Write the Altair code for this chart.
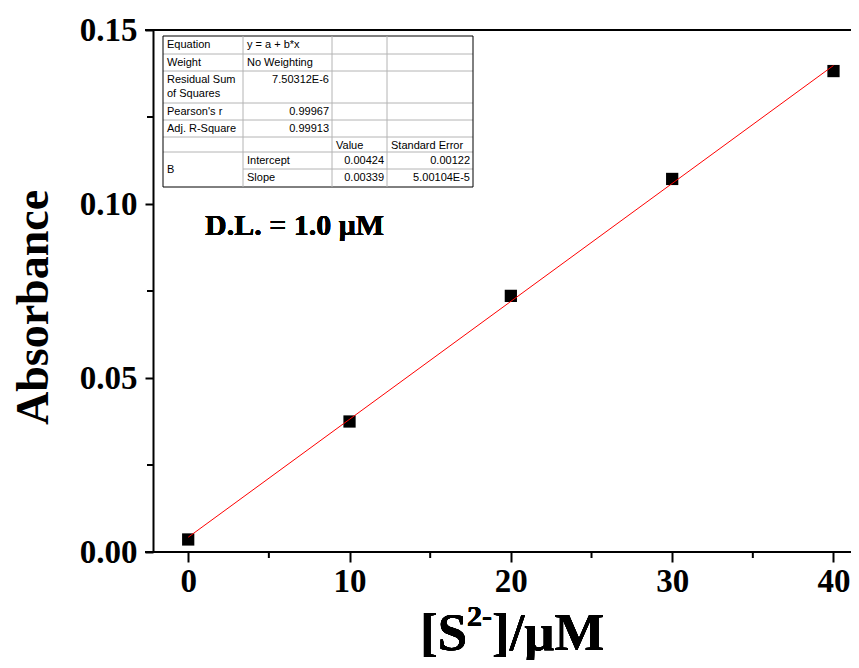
import altair as alt
import pandas as pd

# ---- data ----
conc = [0, 10, 20, 30, 40]
absorb = [0.0036, 0.0375, 0.0736, 0.1072, 0.1382]
x_ticks = [0, 10, 20, 30, 40]
x_minor = [5, 15, 25, 35]
y_ticks = [0.0, 0.05, 0.10, 0.15]
y_minor = [0.025, 0.075, 0.125]

# table contents (Origin fit report)
tbl_col1 = ["Equation", "Weight", "Residual Sum\nof Squares", "Pearson's r", "Adj. R-Square", "", "B", ""]
tbl_col2 = ["y = a + b*x", "No Weighting", "7.50312E-6", "0.99967", "0.99913", "", "Intercept", "Slope"]
tbl_col3 = ["", "", "", "", "", "Value", "0.00424", "0.00339"]
tbl_col4 = ["", "", "", "", "", "Standard Error", "0.00122", "5.00104E-5"]

dl_text = "D.L. = 1.0 \u03bcM"

# ---- layout ----
W, H = 698, 522
SERIF = "Liberation Serif"
SANS = "Liberation Sans"
col_edges = [10, 90, 179, 234, 320]
row_edges = [6, 24, 41, 73, 90, 107, 122, 139, 157]
align2 = ["left", "left", "right", "right", "right", "left", "left", "left"]
align34 = ["left", "left", "left", "left", "left", "left", "right", "right"]

df = pd.DataFrame({"x": conc, "y": absorb})

xscale = alt.Scale(domain=[-2.182, 41.085], nice=False, zero=False)
yscale = alt.Scale(domain=[0, 0.15], nice=False, zero=False)

points = alt.Chart(df).mark_square(size=150, color="black", opacity=1).encode(
    x=alt.X("x:Q", scale=xscale, axis=alt.Axis(
        values=x_ticks, format="d", title=None, grid=False, domain=False,
        labelFont=SERIF, labelFontWeight="bold", labelFontSize=33, labelColor="black",
        tickSize=10, tickWidth=2, tickColor="black", labelPadding=3)),
    y=alt.Y("y:Q", scale=yscale, axis=alt.Axis(
        values=y_ticks, format=".2f", grid=False, title="Absorbance",
        domain=True, domainWidth=2, domainColor="black",
        labelFont=SERIF, labelFontWeight="bold", labelFontSize=33, labelColor="black",
        tickSize=8, tickWidth=2, tickColor="black", labelPadding=8,
        titleFont=SERIF, titleFontWeight="bold", titleFontSize=46, titleColor="black",
        titleX=-106, titleY=277, titleAngle=-90, titleAlign="center", titleBaseline="alphabetic")),
)

fit = alt.Chart(df).transform_regression("x", "y", extent=[0, 40]).mark_line(
    color="#ff0000", strokeWidth=1).encode(x="x:Q", y="y:Q")

xminor = alt.Chart(pd.DataFrame({"x": x_minor})).mark_rule(color="black", strokeWidth=2).encode(
    x="x:Q", y=alt.value(H), y2=alt.value(H + 6))
yminor = alt.Chart(pd.DataFrame({"y": y_minor})).mark_rule(color="black", strokeWidth=2).encode(
    y="y:Q", x=alt.value(-6), x2=alt.value(0))

top_line = alt.Chart(df).mark_rule(color="black", strokeWidth=2).encode(
    x=alt.value(-8), x2=alt.value(W), y=alt.value(0))
bottom_line = alt.Chart(df).mark_rule(color="black", strokeWidth=2).encode(
    x=alt.value(-8), x2=alt.value(W), y=alt.value(H))

dl = alt.Chart(df).mark_text(font=SERIF, fontWeight="bold", fontSize=30, color="black",
                             align="left", baseline="alphabetic").encode(
    x=alt.value(52), y=alt.value(205), text=alt.value(dl_text))

t1 = alt.Chart(df).mark_text(font=SERIF, fontWeight="bold", fontSize=53, color="black",
                             align="left", baseline="alphabetic").encode(
    x=alt.value(267), y=alt.value(620), text=alt.value("[S"))
t2 = alt.Chart(df).mark_text(font=SERIF, fontWeight="bold", fontSize=30, color="black",
                             align="left", baseline="alphabetic").encode(
    x=alt.value(314), y=alt.value(596), text=alt.value("2-"))
t3 = alt.Chart(df).mark_text(font=SERIF, fontWeight="bold", fontSize=53, color="black",
                             align="left", baseline="alphabetic").encode(
    x=alt.value(339), y=alt.value(620), text=alt.value("]/\u03bcM"))

main = alt.layer(points, fit, xminor, yminor, top_line, bottom_line, dl, t1, t2, t3)

# ---- table layer: identity pixel scales, independent from data scales ----
px_scale = alt.Scale(domain=[0, W], nice=False, zero=False)
py_scale = alt.Scale(domain=[H, 0], nice=False, zero=False)

lines = []
for i, yv in enumerate(row_edges):
    x0 = col_edges[1] if yv == row_edges[7] else col_edges[0]
    c = "black" if i in (0, len(row_edges) - 1) else "#b4b4b4"
    lines.append({"px": x0, "px2": col_edges[-1], "py": yv, "py2": yv, "c": c})
for i, xv in enumerate(col_edges):
    c = "black" if i in (0, len(col_edges) - 1) else "#b4b4b4"
    lines.append({"px": xv, "px2": xv, "py": row_edges[0], "py2": row_edges[-1], "c": c})
grid = alt.Chart(pd.DataFrame(lines)).mark_rule(strokeWidth=1).encode(
    x=alt.X("px:Q", scale=px_scale, axis=None), x2="px2:Q",
    y=alt.Y("py:Q", scale=py_scale, axis=None), y2="py2:Q",
    color=alt.Color("c:N", scale=None, legend=None))

cells = []
cols = [tbl_col1, tbl_col2, tbl_col3, tbl_col4]
for ci, col in enumerate(cols):
    for ri, txt in enumerate(col):
        if not txt:
            continue
        if ci == 0:
            al = "left"
        elif ci == 1:
            al = align2[ri]
        else:
            al = align34[ri]
        xp = col_edges[ci] + 4 if al == "left" else col_edges[ci + 1] - 3
        if ci == 0 and txt == "B":
            yp = (row_edges[6] + row_edges[8]) / 2
        else:
            yp = row_edges[ri] + 9
        cells.append({"px": xp, "py": yp, "t": txt, "a": al})
cdf = pd.DataFrame(cells)
cells_left = alt.Chart(cdf[cdf.a == "left"]).mark_text(
    font=SANS, fontSize=11, color="black", align="left", baseline="middle", lineBreak="\n", lineHeight=14).encode(
    x=alt.X("px:Q", scale=px_scale, axis=None), y=alt.Y("py:Q", scale=py_scale, axis=None), text="t:N")
cells_right = alt.Chart(cdf[cdf.a == "right"]).mark_text(
    font=SANS, fontSize=11, color="black", align="right", baseline="middle").encode(
    x=alt.X("px:Q", scale=px_scale, axis=None), y=alt.Y("py:Q", scale=py_scale, axis=None), text="t:N")

table = alt.layer(grid, cells_left, cells_right)

chart = alt.layer(main, table).resolve_scale(
    x="independent", y="independent"
).properties(
    width=W, height=H,
    padding={"left": 145, "top": 22, "right": 0, "bottom": 108},
    autosize=alt.AutoSizeParams(type="none"),
).configure_view(stroke=None)

chart.save("out.html", embed_options={"renderer": "svg", "actions": False})
